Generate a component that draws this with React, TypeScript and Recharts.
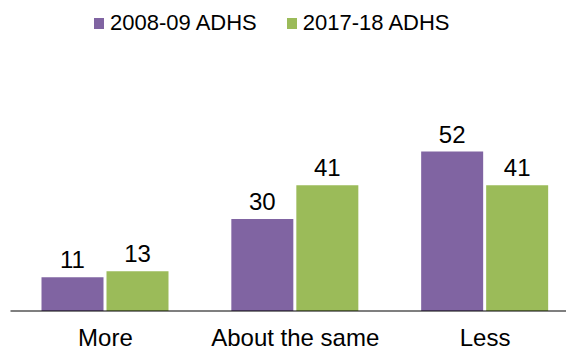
import { Bar, BarChart, LabelList, Legend, XAxis, YAxis } from 'recharts'

const categories = ['More', 'About the same', 'Less']
const adhs2008 = [11, 30, 52]
const adhs2017 = [13, 41, 41]
const seriesNames = ['2008-09 ADHS', '2017-18 ADHS']

const PURPLE = '#8064A2'
const GREEN = '#9BBB59'
const FONT = '"Liberation Sans", Arial, sans-serif'

const data = categories.map((label, i) => ({
  label,
  a: adhs2008[i],
  b: adhs2017[i],
}))

type LegendItem = { value?: string; color?: string }

function TopLegend({ payload }: { payload?: LegendItem[] }) {
  return (
    <div style={{ height: 40, display: 'flex', alignItems: 'center', paddingLeft: 94, fontFamily: FONT, fontSize: 22 }}>
      {(payload || []).map((item, i) => (
        <div key={item.value} style={{ display: 'flex', alignItems: 'center', marginRight: i === 0 ? 30 : 0 }}>
          <span style={{ width: 10, height: 11, background: item.color, marginRight: 6, display: 'inline-block' }} />
          <span style={{ color: '#000', lineHeight: '22px' }}>{item.value}</span>
        </div>
      ))}
    </div>
  )
}

const labelStyle = { fill: '#000', fontSize: 24, fontFamily: FONT }

export default function App() {
  return (
    <div style={{ position: 'absolute', left: 0, top: 0, width: 566, height: 349, overflow: 'hidden', background: '#fff' }}>
      <BarChart
        width={600}
        height={349}
        data={data}
        margin={{ top: 87, right: 20, left: 10.5, bottom: 0 }}
        barCategoryGap={31}
        barGap={3}
      >
        <Legend
          verticalAlign="top"
          align="left"
          content={<TopLegend />}
          wrapperStyle={{ top: 3, left: 0, width: 566 }}
        />
        <XAxis
          dataKey="label"
          height={38}
          tickLine={false}
          tickSize={0}
          tickMargin={18}
          axisLine={{ stroke: '#000', strokeWidth: 1.2 }}
          tick={labelStyle}
        />
        <YAxis hide domain={[0, 60]} />
        <Bar dataKey="a" name={seriesNames[0]} fill={PURPLE} isAnimationActive={false}>
          <LabelList dataKey="a" position="top" offset={9} style={labelStyle} />
        </Bar>
        <Bar dataKey="b" name={seriesNames[1]} fill={GREEN} isAnimationActive={false}>
          <LabelList dataKey="b" position="top" offset={9} style={labelStyle} />
        </Bar>
      </BarChart>
    </div>
  )
}
